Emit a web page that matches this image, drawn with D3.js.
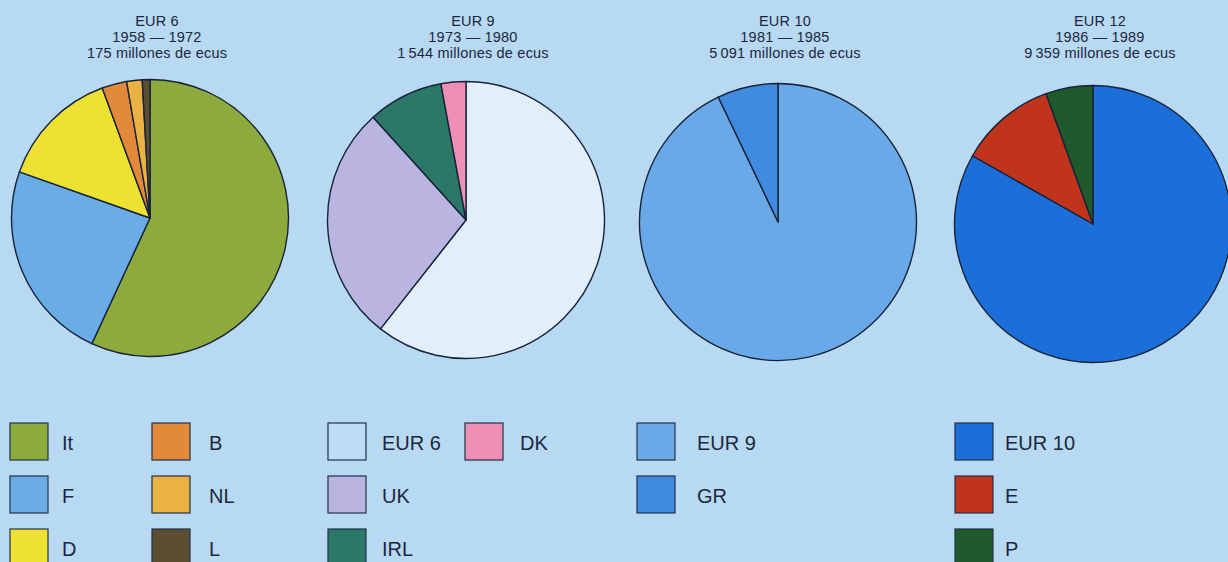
<!DOCTYPE html>
<html>
<head>
<meta charset="utf-8">
<script src="https://cdn.jsdelivr.net/npm/d3@7"></script>
<style>
  html, body { margin: 0; padding: 0; background: #b7d9f1; }
  svg { display: block; }
  text { font-family: "Liberation Sans", Arial, Helvetica, sans-serif; fill: #1c2740; }
</style>
</head>
<body>
<svg id="chart" width="1228" height="562"></svg>
<script>
// Period headings
const periods = ["EUR 6", "EUR 9", "EUR 10", "EUR 12"];
const years = ["1958 \u2014 1972", "1973 \u2014 1980", "1981 \u2014 1985", "1986 \u2014 1989"];
const totals = ["175", "1\u2009544", "5\u2009091", "9\u2009359"];

// Shares (%) of each period, by member group
const eur6Keys = ["It", "F", "D", "B", "NL", "L"];
const eur6Shares = [56.9, 23.5, 14.0, 2.9, 1.8, 0.9];

const eur9Keys = ["EUR 6", "UK", "IRL", "DK"];
const eur9Shares = [60.6, 27.7, 8.8, 2.9];

const eur10Keys = ["EUR 9", "GR"];
const eur10Shares = [92.9, 7.1];

const eur12Keys = ["EUR 10", "E", "P"];
const eur12Shares = [83.2, 11.3, 5.5];

const colour = d3.scaleOrdinal()
  .domain(["It", "F", "D", "B", "NL", "L", "EUR 6", "UK", "IRL", "DK", "EUR 9", "GR", "EUR 10", "E", "P"])
  .range(["#8dab3c", "#6aade6", "#ede233", "#e3893a", "#e9b243", "#5b4e31",
          "#e0effa", "#b9b5e0", "#2b7768", "#ee8fb5",
          "#6aa9e8", "#3e8be0", "#1c6fd9", "#c1341c", "#1f5a2c"]);

const svg = d3.select("#chart");

const groups = [
  { keys: eur6Keys, values: eur6Shares },
  { keys: eur9Keys, values: eur9Shares },
  { keys: eur10Keys, values: eur10Shares },
  { keys: eur12Keys, values: eur12Shares }
];

// pie centres across the page
const centres = [[150, 218], [466, 220], [778, 222], [1093, 224]];
const radius = 138.5;

const pie = d3.pie().sort(null).value(d => d.v);
const arc = d3.arc().innerRadius(0).outerRadius(radius);

groups.forEach((g, i) => {
  const data = g.keys.map((k, j) => ({ k, v: g.values[j] }));
  const [cx, cy] = centres[i];
  const gp = svg.append("g").attr("transform", `translate(${cx},${cy})`);
  gp.selectAll("path")
    .data(pie(data))
    .join("path")
    .attr("d", arc)
    .attr("fill", d => colour(d.data.k))
    .attr("stroke", "#17233a")
    .attr("stroke-width", 1.4)
    .attr("stroke-linejoin", "round");

  const t = svg.append("text")
    .attr("text-anchor", "middle")
    .attr("font-size", 14.5)
    .attr("letter-spacing", 0.2);
  const tx = cx + 7;
  t.append("tspan").attr("x", tx).attr("y", 26).text(periods[i]);
  t.append("tspan").attr("x", tx).attr("y", 42).text(years[i]);
  t.append("tspan").attr("x", tx).attr("y", 57.5).text(totals[i] + " millones de ecus");
});

// Legend layout: [key, square x, label x, row]
const legendItems = [
  ["It", 10, 62, 0], ["F", 10, 62, 1], ["D", 10, 62, 2],
  ["B", 152, 209, 0], ["NL", 152, 209, 1], ["L", 152, 209, 2],
  ["EUR 6", 328, 382, 0], ["UK", 328, 382, 1], ["IRL", 328, 382, 2],
  ["DK", 465, 520, 0],
  ["EUR 9", 637, 697, 0], ["GR", 637, 697, 1],
  ["EUR 10", 955, 1005, 0], ["E", 955, 1005, 1], ["P", 955, 1005, 2]
];
const rowY = [423, 476, 529];
const box = 38;

const lg = svg.append("g");
legendItems.forEach(([k, x, lx, r]) => {
  const y = rowY[r];
  lg.append("rect")
    .attr("x", x).attr("y", y)
    .attr("width", box).attr("height", box - 1)
    .attr("fill", k === "EUR 6" ? "#bcdcf3" : colour(k))
    .attr("stroke", "#24314a")
    .attr("stroke-width", 1.2);
  lg.append("text")
    .attr("x", lx)
    .attr("y", y + box / 2 + 8)
    .attr("font-size", 20)
    .text(k);
});
</script>
</body>
</html>
